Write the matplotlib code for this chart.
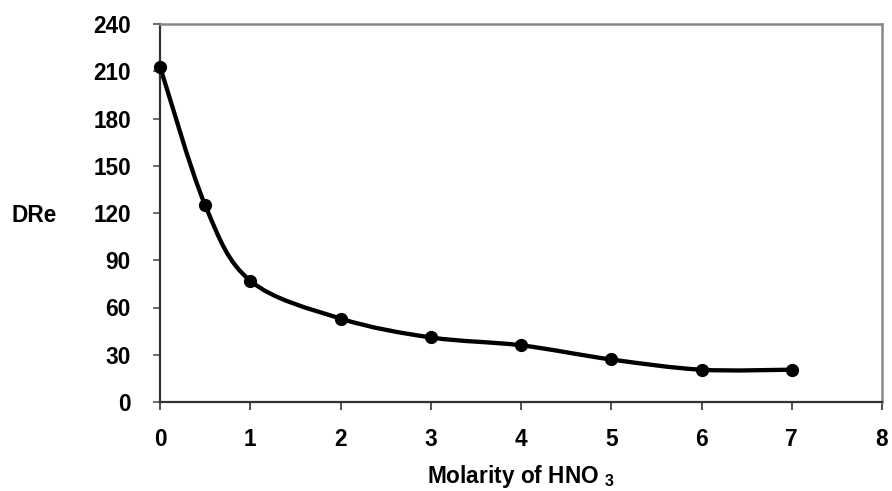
import matplotlib
matplotlib.use("Agg")
import matplotlib.pyplot as plt
import numpy as np
from matplotlib.path import Path
from matplotlib.patches import PathPatch

molarity = [0, 0.5, 1, 2, 3, 4, 5, 6, 7]
dre = [213, 125, 77, 53, 41, 36, 27, 20.5, 20.5]
xticks = [0, 1, 2, 3, 4, 5, 6, 7, 8]
yticks = [0, 30, 60, 90, 120, 150, 180, 210, 240]

plt.rcParams['font.family'] = ['Liberation Sans', 'DejaVu Sans']
plt.rcParams['font.weight'] = 'bold'
plt.rcParams['mathtext.fontset'] = 'custom'
plt.rcParams['mathtext.rm'] = 'Liberation Sans:bold'
plt.rcParams['mathtext.bf'] = 'Liberation Sans:bold'

FS = 16.3

fig = plt.figure(figsize=(8.92, 4.91), dpi=100)
ax = fig.add_axes([160/892, 1-402/491, (882-160)/892, (402-24)/491])

# Smoothed line (Excel-style Bezier through data points)
x = np.array(molarity, float)
y = np.array(dre, float)
n = len(x)
verts = [(x[0], y[0])]
codes = [Path.MOVETO]
for i in range(n-1):
    p0 = np.array([x[max(i-1, 0)], y[max(i-1, 0)]])
    p1 = np.array([x[i], y[i]])
    p2 = np.array([x[i+1], y[i+1]])
    p3 = np.array([x[min(i+2, n-1)], y[min(i+2, n-1)]])
    c1 = p1 + (p2 - p0) / 6
    c2 = p2 - (p3 - p1) / 6
    verts += [tuple(c1), tuple(c2), tuple(p2)]
    codes += [Path.CURVE4] * 3
ax.add_patch(PathPatch(Path(verts, codes), fill=False, lw=3.1, color='black',
                       capstyle='round', joinstyle='round', zorder=2))
ax.plot(molarity, dre, linestyle='none', marker='o', ms=8.5, color='black',
        clip_on=False, zorder=3)

ax.set_xlim(0, 8)
ax.set_ylim(0, 240)
ax.set_xticks(xticks)
ax.set_yticks(yticks)
ax.set_xticklabels([str(t) for t in xticks], fontsize=FS, fontweight='bold')
ax.set_yticklabels([str(t) for t in yticks], fontsize=FS, fontweight='bold')
ax.tick_params(axis='x', direction='out', length=6, width=1.2, color='#333333', pad=13)
ax.tick_params(axis='y', direction='out', length=5, width=1.2, color='#555555', pad=16)

for s in ['left', 'bottom']:
    ax.spines[s].set_color('#333333')
    ax.spines[s].set_linewidth(1.6)
for s in ['top', 'right']:
    ax.spines[s].set_color('#888888')
    ax.spines[s].set_linewidth(1.8)

ax.set_xlabel(r'Molarity of HNO $_{\mathbf{3}}$', fontsize=FS, fontweight='bold', labelpad=8)
fig.text(34/892, 1-215/491, 'DRe', fontsize=FS, fontweight='bold', ha='center', va='center')

fig.savefig('out.png', dpi=100)
